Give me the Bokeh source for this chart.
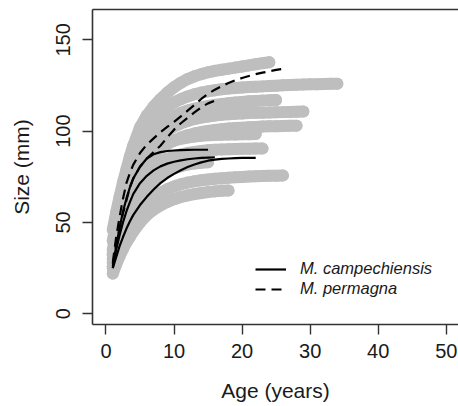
from bokeh.plotting import figure
from bokeh.models import Range1d, LinearAxis, FixedTicker, Legend, LegendItem
from bokeh.embed import file_html
from bokeh.resources import INLINE

# ---- data ----
x_ticks = [0, 10, 20, 30, 40, 50]
y_ticks = [0, 50, 100, 150]

# ages of back-calculated sizes (half years early on, then yearly)
gray_ages = [1, 1.5, 2, 2.5, 3, 3.5, 4, 5, 6, 7, 8, 9, 10, 11, 12, 13, 14, 15, 16, 17,
             18, 19, 20, 21, 22, 23, 24, 25, 26, 27, 28, 29, 30, 31, 32, 33, 34]

g1 = [46, 55.5, 64, 72, 79, 86, 92, 102, 108.5, 113.5, 117.5, 121, 124, 126.5, 128.5, 130,
      131.2, 132.2, 133, 133.6, 134.2, 134.8, 135.4, 136, 136.6, 137.2, 137.7]
g2 = [40, 50, 59, 67, 74, 80.5, 86, 95, 101.5, 106.5, 110.3, 113.3, 115.7, 117.5, 119, 120.2,
      121.1, 121.8, 122.4, 122.9, 123.3, 123.6, 123.9, 124.1, 124.3, 124.5, 124.7, 124.9,
      125.1, 125.3, 125.4, 125.5, 125.6, 125.7, 125.8, 125.9, 126]
g3 = [35, 45, 54, 62, 69, 75, 80.5, 89, 95, 99.8, 103.4, 106.2, 108.3, 110, 111.3, 112.3,
      113.1, 113.8, 114.4, 114.9, 115.3, 115.7, 116, 116.3, 116.5, 116.7, 116.9, 117]
g4 = [33, 42, 50, 57.5, 64, 70, 75, 83.5, 89.5, 94, 97.5, 100.3, 102.5, 104.2, 105.5, 106.6,
      107.4, 108, 108.5, 108.9, 109.2, 109.5, 109.7, 109.9, 110, 110.1, 110.2, 110.3, 110.4,
      110.5, 110.6, 110.7]
g5 = [30, 39, 47, 54, 60, 65.5, 70, 77.5, 83, 87.2, 90.4, 92.9, 94.9, 96.5, 97.7, 98.7, 99.5,
      100.1, 100.6, 101, 101.4, 101.7, 101.9, 102.1, 102.3, 102.5, 102.6, 102.7, 102.8, 102.9, 103]
g6 = [32, 41, 49.5, 57, 63.5, 69, 73.5, 80.5, 85.5, 89, 91.6, 93.4, 94.8, 95.8, 96.5, 97, 97.4,
      97.7, 97.9, 98, 98.1, 98.2, 98.3, 98.35, 98.4]
g7 = [28, 36, 44, 51, 57, 62, 66, 72.5, 77, 80.5, 83, 84.8, 86.2, 87.2, 88, 88.6, 89.1, 89.5,
      89.8, 90, 90.1, 90.2, 90.3, 90.4, 90.5, 90.5]
g8 = [26, 33, 40, 46, 51, 55.5, 59, 65, 69.5, 73, 75.8, 78, 79.6, 80.8, 81.7, 82.3, 82.7, 83]
g9 = [25, 31, 36.5, 41, 45, 48.5, 51.5, 56.5, 60.5, 63.7, 66.2, 68.2, 69.7, 70.9, 71.8, 72.5,
      73.1, 73.5, 73.9, 74.2, 74.5, 74.7, 74.9, 75.1, 75.3, 75.4, 75.5, 75.6, 75.7]
g10 = [22, 27, 31.5, 35.5, 39, 42, 45, 50, 54, 57, 59.3, 61.2, 62.7, 63.9, 64.8, 65.5, 66.1,
       66.6, 67, 67.3, 67.5]
gray_series = [g1, g2, g3, g4, g5, g6, g7, g8, g9, g10]

# fitted growth curves, M. campechiensis (solid)
camp_a_age = [1, 1.5, 2, 2.5, 3, 3.5, 4, 5, 6, 7, 8, 9, 10, 11, 12, 13, 14, 15]
camp_a = [25, 37, 47, 56, 63, 69, 74, 80.5, 85, 87.3, 88.5, 89.1, 89.4, 89.6, 89.7, 89.8, 89.8, 89.8]
camp_b_age = [1, 1.5, 2, 2.5, 3, 3.5, 4, 5, 6, 7, 8, 9, 10, 11, 12, 13, 14, 15, 16]
camp_b = [26, 35, 43, 50, 56, 61, 65.5, 71.5, 75.5, 78.5, 80.7, 82.2, 83.2, 84, 84.6, 85, 85.3, 85.5, 85.7]
camp_c_age = [1, 1.5, 2, 2.5, 3, 3.5, 4, 5, 6, 7, 8, 9, 10, 11, 12, 13, 14, 15, 16, 17, 18, 19, 20, 21, 22]
camp_c = [25, 31, 37, 42, 46.5, 50.5, 54, 59.5, 64, 68, 71.5, 74.3, 76.6, 78.6, 80.3, 81.7, 82.9,
          83.8, 84.4, 84.8, 85, 85.2, 85.3, 85.4, 85.4]

# fitted growth curves, M. permagna (dashed)
perm_a_age = [1, 1.5, 2, 2.5, 3, 3.5, 4, 5, 6, 7, 8, 9, 10, 11, 12, 13, 14, 15, 16, 17, 18, 19,
              20, 21, 22, 23, 24, 25, 26]
perm_a = [28, 42, 53, 63, 71.5, 77, 81.5, 88, 92.6, 96, 99.4, 102.3, 105.1, 108.1, 111.2, 114.4,
          117.6, 120.4, 122.7, 124.6, 126.3, 127.8, 129.1, 130.2, 131.2, 132, 132.8, 133.5, 134.1]
perm_b_age = [1, 1.5, 2, 2.5, 3, 3.5, 4, 5, 6, 7, 8, 9, 10, 11, 12, 13, 14, 15, 16]
perm_b = [27, 38, 47, 55, 62, 69, 74, 80.5, 85, 88.5, 92, 96.5, 100.8, 104.3, 107.3, 110.2, 113, 115.2, 116.7]

legend_labels = ["M. campechiensis", "M. permagna"]

# ---- figure ----
FONT = "Liberation Sans"
AX = "#333333"
TXT = "#1a1a1a"

p = figure(width=458, height=406, output_backend="svg", toolbar_location=None,
           x_range=Range1d(-1.98, 51.8), y_range=Range1d(-5.9, 166.6),
           min_border_left=92, min_border_right=0, min_border_top=9, min_border_bottom=82,
           x_axis_label="Age (years)", y_axis_label="Size (mm)")
p.grid.visible = False
p.outline_line_color = None
p.background_fill_color = "white"
p.border_fill_color = "white"

for s in gray_series:
    xs = gray_ages[:len(s)]
    p.line(xs, s, line_width=12, line_color="#bebebe", line_cap="round", line_join="round")
    p.scatter(xs, s, size=12, fill_color="#bebebe", line_color=None)

solid_rs = []
for xa, ya in [(camp_a_age, camp_a), (camp_b_age, camp_b), (camp_c_age, camp_c)]:
    solid_rs.append(p.line(xa, ya, line_width=2.2, line_color="black"))
dash_rs = []
for xa, ya in [(perm_a_age, perm_a), (perm_b_age, perm_b)]:
    dash_rs.append(p.line(xa, ya, line_width=2.2, line_color="black", line_dash="10 6"))

for ax in [p.xaxis[0], p.yaxis[0]]:
    ax.axis_line_color = AX
    ax.axis_line_width = 1.6
    ax.major_tick_line_color = AX
    ax.major_tick_line_width = 1.4
    ax.major_tick_out = 10
    ax.major_tick_in = 0
    ax.minor_tick_line_color = None
    ax.major_label_text_font = FONT
    ax.major_label_text_font_size = "20px"
    ax.major_label_text_color = TXT
    ax.axis_label_text_font = FONT
    ax.axis_label_text_font_size = "21px"
    ax.axis_label_text_font_style = "normal"
    ax.axis_label_text_color = TXT

p.xaxis[0].ticker = FixedTicker(ticks=x_ticks)
p.yaxis[0].ticker = FixedTicker(ticks=y_ticks)
p.yaxis[0].major_label_orientation = "parallel"
p.xaxis[0].major_label_standoff = 9
p.yaxis[0].major_label_standoff = 12
p.xaxis[0].axis_label_standoff = 18
p.yaxis[0].axis_label_standoff = 21

top = LinearAxis(ticker=FixedTicker(ticks=[]), major_tick_out=0, major_tick_in=0,
                 minor_tick_out=0, minor_tick_in=0, major_label_standoff=0,
                 axis_line_color=AX, axis_line_width=1.6)
p.add_layout(top, "above")

legend = Legend(items=[LegendItem(label=legend_labels[0], renderers=[solid_rs[0]]),
                       LegendItem(label=legend_labels[1], renderers=[dash_rs[0]])],
                location=(163, 26), glyph_width=31, glyph_height=18, label_height=18,
                spacing=1, padding=0, margin=0, label_standoff=14,
                border_line_color=None, background_fill_alpha=0,
                label_text_font=FONT, label_text_font_style="italic",
                label_text_font_size="16.5px", label_text_color=TXT)
p.add_layout(legend)

open("out.html", "w").write(file_html(p, INLINE))
